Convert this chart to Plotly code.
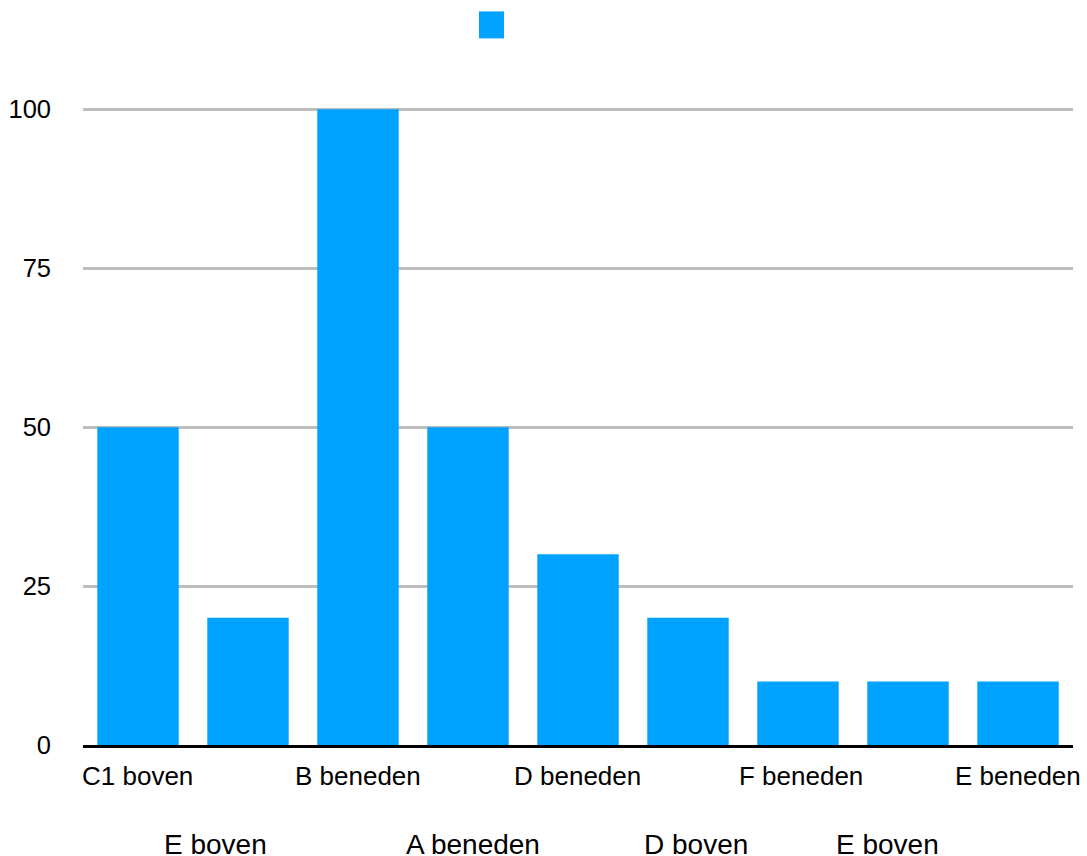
import plotly.graph_objects as go

categories = ["C1 boven", "E boven", "B beneden", "A beneden", "D beneden",
              "D boven", "F beneden", "E boven", "E beneden"]
values = [50, 20, 100, 50, 30, 20, 10, 10, 10]
y_ticks = [0, 25, 50, 75, 100]

# label placement (pixels) as seen in the reference: two staggered rows
row_yshift = [-31, -99]
row_size = [26, 28]
label_xshift = [-1, -33, 0, 5, -1, 8, 3, -21, 0]

W, H = 1087, 856
L, R = 83, 14
y0_px, y100_px = 745, 109
ymax = 101
unit = (y0_px - y100_px) / 100.0
plot_h = unit * ymax
T = y0_px - plot_h
B = H - y0_px

xpos = list(range(len(categories)))

fig = go.Figure()
fig.add_trace(go.Bar(x=xpos, y=values, marker=dict(color="#00A2FF", line=dict(width=0)),
                     name="", showlegend=False))

family = "Liberation Sans, Arial, Helvetica, sans-serif"
yfont = dict(family=family, size=25.5, color="#000000")

annotations = []
for i, c in enumerate(categories):
    r = i % 2
    annotations.append(dict(x=i, y=0, xref="x", yref="paper", text=c, showarrow=False,
                            xanchor="center", yanchor="middle",
                            yshift=row_yshift[r], xshift=label_xshift[i],
                            font=dict(family=family, size=row_size[r], color="#000000")))

# legend swatch (series has no name)
lx0, lx1, ly0, ly1 = 479, 504, 11, 38
pw = W - L - R
shapes = [dict(type="rect", xref="paper", yref="paper",
               x0=(lx0 - L) / pw, x1=(lx1 - L) / pw,
               y0=(y0_px - ly1) / plot_h, y1=(y0_px - ly0) / plot_h,
               fillcolor="#00A2FF", line=dict(width=0))]

fig.update_layout(
    width=W, height=H,
    margin=dict(l=L, r=R, t=T, b=B, pad=0, autoexpand=False),
    paper_bgcolor="white", plot_bgcolor="white",
    font=yfont,
    bargap=0.26,
    showlegend=False,
    annotations=annotations,
    shapes=shapes,
    xaxis=dict(range=[-0.5, len(categories) - 0.5], showticklabels=False, ticks="",
               showgrid=False, zeroline=False, showline=True, linecolor="#000000",
               linewidth=2.5, fixedrange=True, automargin=False),
    yaxis=dict(range=[0, ymax], tickvals=y_ticks, ticktext=[str(v) for v in y_ticks],
               showgrid=True, gridcolor="#BDBDBD", gridwidth=2.5, zeroline=False,
               showline=False, ticks="", ticklabelstandoff=31, tickfont=yfont,
               fixedrange=True, automargin=False),
)

fig.write_html("out.html")
